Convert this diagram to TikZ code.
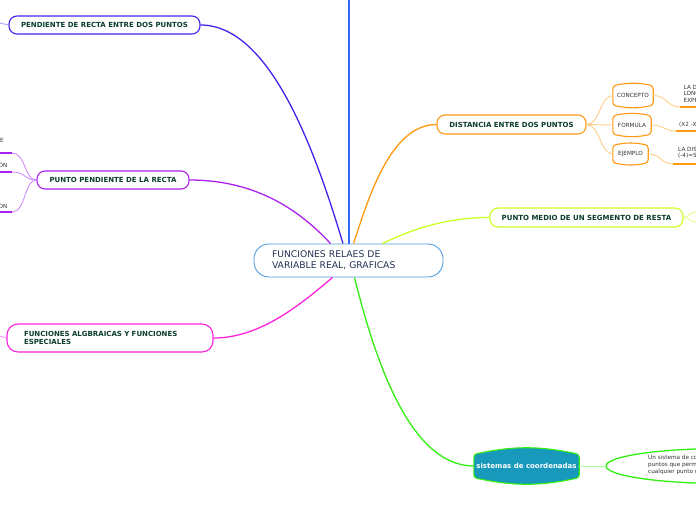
\documentclass[tikz,border=0pt]{standalone}
\usepackage{fontspec}
\setmainfont{DejaVu Sans}
\usetikzlibrary{calc}
\pgfdeclarelayer{background}
\pgfsetlayers{background,main}
\definecolor{txtgreen}{HTML}{0B3D2E}
\definecolor{txtnavy}{HTML}{243252}
\definecolor{cblue}{HTML}{3366FF}
\definecolor{cviolet}{HTML}{4422EE}
\definecolor{cpurple}{HTML}{AA22EE}
\definecolor{cpurplel}{HTML}{D08CFF}
\definecolor{cmagenta}{HTML}{FF22DD}
\definecolor{corange}{HTML}{FF9911}
\definecolor{corangel}{HTML}{FFCC88}
\definecolor{cyellow}{HTML}{CCFF22}
\definecolor{cyellowl}{HTML}{E4FF88}
\definecolor{cgreen}{HTML}{33EE11}
\definecolor{cgreenl}{HTML}{A8FF99}
\definecolor{cteal}{HTML}{1899BB}
\definecolor{ccentral}{HTML}{4D9DE0}
\definecolor{smalltxt}{HTML}{333333}
\newcommand{\barrelbg}[3]{%
\begin{pgfonlayer}{background}
\draw[#2, line width=1.1pt, rounded corners=3pt, fill=#3] ([yshift=-2.5pt]#1.north west) to[bend left=12] ([yshift=-2.5pt]#1.north east) -- ([yshift=2.5pt]#1.south east) to[bend left=12] ([yshift=2.5pt]#1.south west) -- cycle;
\end{pgfonlayer}}
\begin{document}
\begin{tikzpicture}[x=1pt,y=-1pt,
  catbox/.style={draw, line width=1.1pt, fill=white, rounded corners=8pt, inner sep=0pt,
    font=\fontsize{7}{8.5}\selectfont\bfseries, text=txtgreen, align=center, minimum height=18pt},
  subbox/.style={draw=none, inner sep=0pt, font=\fontsize{5.7}{6.5}\selectfont, text=smalltxt},
  smalltext/.style={inner sep=0pt, font=\fontsize{5.7}{6.5}\selectfont, text=smalltxt, align=left},
  mainconn/.style={line width=1.3pt},
  subconn/.style={line width=0.9pt}
]
\useasboundingbox (0,0) rectangle (696,520);
\clip (0,0) rectangle (696,520);

% nodes
\node[draw=ccentral, line width=0.9pt, fill=white, rounded corners=15pt, minimum width=189pt, minimum height=33pt,
  text width=153pt, align=left, inner xsep=18pt, font=\fontsize{9.2}{11}\selectfont, text=txtnavy] (c) at (348.5,260.5)
  {FUNCIONES RELAES DE\\VARIABLE REAL, GRAFICAS};
\coordinate (top) at (349,0);

\node[catbox, draw=cviolet, minimum width=191pt] (pend) at (104.5,25) {PENDIENTE DE RECTA ENTRE DOS PUNTOS};
\node[catbox, draw=cpurple, minimum width=152pt] (pp) at (113,180) {PUNTO PENDIENTE DE LA RECTA};
\node[catbox, draw=cmagenta, minimum width=206pt, minimum height=28pt, rounded corners=11pt, text width=172pt, align=left] (fa) at (110,338)
  {FUNCIONES ALGBRAICAS Y FUNCIONES\\ESPECIALES};
\node[catbox, draw=corange, minimum width=149pt, minimum height=19pt] (dist) at (511.5,124.5) {DISTANCIA ENTRE DOS PUNTOS};
\node[catbox, draw=cyellow, minimum width=193pt, minimum height=19pt] (med) at (586.5,217.5) {PUNTO MEDIO DE UN SEGMENTO DE RESTA};

% barrel nodes
\node[subbox, minimum width=40pt, minimum height=24pt] (con) at (633,95.5) {CONCEPTO};
\barrelbg{con}{corange}{white}
\node[subbox, minimum width=38pt, minimum height=23pt] (for) at (632,125) {FORMULA};
\barrelbg{for}{corange}{white}
\node[subbox, minimum width=35pt, minimum height=22pt] (eje) at (630.5,154) {EJEMPLO};
\barrelbg{eje}{corange}{white}
\node[draw=none, inner sep=0pt, minimum width=105pt, minimum height=28pt, font=\fontsize{7}{8}\selectfont\bfseries, text=white] (sis) at (526.5,466) {sistemas de coordenadas};
\barrelbg{sis}{cgreen}{cteal}

% main connectors
\draw[cblue, mainconn] ([xshift=0.5pt]c.north) -- (top);
\draw[cviolet, mainconn] (pend.east) .. controls (270,25) and (315,150) .. ([xshift=-5.5pt]c.north);
\draw[cpurple, mainconn] (pp.east) .. controls (250,180) and (295,205) .. ([xshift=-18pt]c.north);
\draw[cmagenta, mainconn] (fa.east) .. controls (260,338) and (300,305) .. ([xshift=-16pt]c.south);
\draw[corange, mainconn] ([xshift=5pt]c.north) .. controls (368,200) and (390,124.5) .. (dist.west);
\draw[cyellow, mainconn] ([xshift=34pt]c.north) .. controls (420,225) and (455,217.5) .. (med.west);
\draw[cgreen, mainconn] ([xshift=6pt]c.south) .. controls (375,360) and (410,466) .. (sis.west);

% left stubs
\coordinate (pendl) at (0,23);
\draw[cviolet!45, subconn] (pend.west) -- (pendl);
\coordinate (fal) at (0,336);
\draw[cmagenta!45, subconn] (fa.west) -- (fal);

% punto pendiente children
\coordinate (pa) at (12,153); \coordinate (pa0) at (0,153);
\coordinate (pb) at (12,172); \coordinate (pb0) at (0,172);
\coordinate (pc) at (12,212); \coordinate (pc0) at (0,212);
\draw[cpurplel, subconn] (pp.west) .. controls (24,180) and (26,153) .. (pa);
\draw[cpurplel, subconn] (pp.west) .. controls (24,180) and (26,172) .. (pb);
\draw[cpurplel, subconn] (pp.west) .. controls (24,180) and (26,212) .. (pc);
\draw[cpurple, line width=1.3pt] (pa) -- (pa0);
\draw[cpurple, line width=1.3pt] (pb) -- (pb0);
\draw[cpurple, line width=1.3pt] (pc) -- (pc0);
\node[smalltext, anchor=east] (ta) at (4,140) {E};
\node[smalltext, anchor=east] (tb) at (7.5,165.5) {ON};
\node[smalltext, anchor=east] (tc) at (7.5,206) {ON};

% distancia children
\draw[corangel, subconn] (dist.east) .. controls (600,124.5) and (600,95.5) .. (con.west);
\draw[corangel, subconn] (dist.east) -- (for.west);
\draw[corangel, subconn] (dist.east) .. controls (600,124.5) and (600,154) .. (eje.west);

\coordinate (u1) at (680,107); \coordinate (u1e) at (696,107);
\coordinate (u2) at (676,131); \coordinate (u2e) at (696,131);
\coordinate (u3) at (673,164); \coordinate (u3e) at (696,164);
\draw[corangel, subconn] (con.east) .. controls (667,95.5) and (667,107) .. (u1);
\draw[corangel, subconn] (for.east) .. controls (664,125) and (664,131) .. (u2);
\draw[corangel, subconn] (eje.east) .. controls (661,154) and (661,164) .. (u3);
\draw[corange, line width=1.3pt] (u1) -- (u1e);
\draw[corange, line width=1.3pt] (u2) -- (u2e);
\draw[corange, line width=1.3pt] (u3) -- (u3e);
\node[smalltext, anchor=north west] (t1) at (683.5,85) {LA D\\LONG\\EXPR};
\node[smalltext, anchor=west] (t2) at (679,124.5) {(X2 -X};
\node[smalltext, anchor=north west] (t3) at (678,147) {LA DIS\\(-4)=5};

% punto medio children
\coordinate (m1) at (696,212);
\coordinate (m2) at (696,222);
\draw[cyellowl, subconn] (med.east) .. controls (689,217.5) and (690,212) .. (m1);
\draw[cyellowl, subconn] (med.east) .. controls (689,217.5) and (690,222) .. (m2);

% sistemas child
\draw[cgreen, line width=1.3pt, fill=white] (724,466) ellipse (118pt and 17.5pt);
\coordinate (ell) at (606,466);
\draw[cgreenl, subconn] (sis.east) -- (ell);
\node[smalltext, anchor=north west, font=\fontsize{5.7}{7}\selectfont] (t4) at (648,454.5) {Un sistema de co\\puntos que perm\\cualquier punto c};
\end{tikzpicture}
\end{document}
